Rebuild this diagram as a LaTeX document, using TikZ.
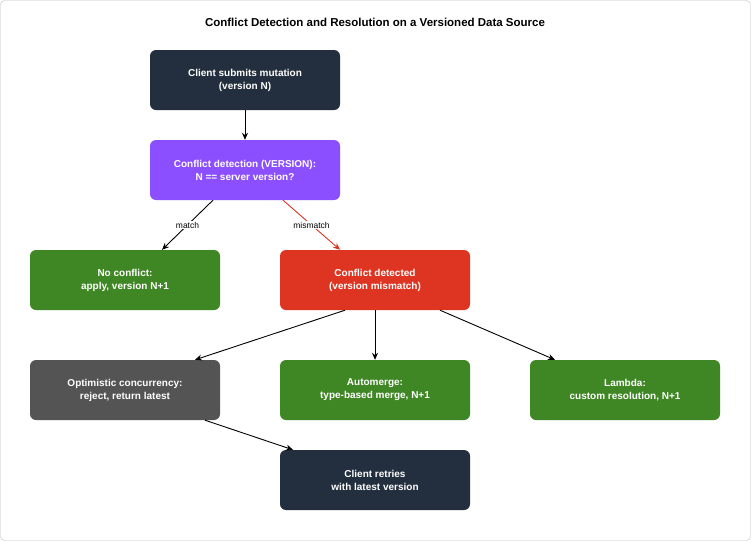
\documentclass[tikz,border=0pt]{standalone}
\usepackage{fontspec}
\setmainfont{Liberation Sans}
\usetikzlibrary{arrows.meta}
\definecolor{navy}{HTML}{232F3E}
\definecolor{violet}{HTML}{8C4FFF}
\definecolor{leaf}{HTML}{3F8624}
\definecolor{alarm}{HTML}{DD3522}
\definecolor{slate}{HTML}{545454}
\tikzset{
  box/.style={rounded corners=6pt, minimum width=190pt, minimum height=60pt,
    text=white, align=center, font=\fontsize{10}{13}\selectfont\bfseries, inner sep=0pt},
  flow/.style={-{Stealth[length=7pt,width=6pt]}, line width=0.9pt},
  tag/.style={fill=white, inner sep=1pt, font=\fontsize{8.5}{10}\selectfont}
}
\begin{document}
\begin{tikzpicture}[x=1pt,y=-1pt]
  \draw[rounded corners=4pt, draw=black!25, fill=white] (0.5,0.5) rectangle (750.5,540.5);
  \useasboundingbox (0,0) rectangle (751,541);
  \node[font=\fontsize{11.5}{14}\selectfont\bfseries] (title) at (375,22)
    {Conflict Detection and Resolution on a Versioned Data Source};
  % boxes
  \node[box, fill=navy] (client) at (245,80) {Client submits mutation\\(version N)};
  \node[box, fill=violet] (detect) at (245,170) {Conflict detection (VERSION):\\N == server version?};
  \node[box, fill=leaf] (noconf) at (125,280) {No conflict:\\apply, version N+1};
  \node[box, fill=alarm] (conflict) at (375,280) {Conflict detected\\(version mismatch)};
  \node[box, fill=slate] (optim) at (125,390) {Optimistic concurrency:\\reject, return latest};
  \node[box, fill=leaf] (automerge) at (375,390) {Automerge:\\type-based merge, N+1};
  \node[box, fill=leaf] (lambda) at (625,390) {Lambda:\\custom resolution, N+1};
  \node[box, fill=navy] (retry) at (375,480) {Client retries\\with latest version};
  % connectors
  \draw[flow] (client) -- (detect);
  \draw[flow] (detect.south) ++(-32,0) coordinate (m1) -- (noconf.north -| 162,0)
    node[tag, pos=0.5] {match};
  \draw[flow, alarm] (detect.south) ++(38,0) coordinate (m2) -- (conflict.north -| 340,0)
    node[tag, text=black, pos=0.5] {mismatch};
  \draw[flow] (conflict.south) ++(-30,0) -- (optim.north -| 195,0);
  \draw[flow] (conflict) -- (automerge);
  \draw[flow] (conflict.south) ++(65,0) -- (lambda.north -| 555,0);
  \draw[flow] (optim.south) ++(80,0) -- (retry.north -| 293,0);
\end{tikzpicture}
\end{document}
